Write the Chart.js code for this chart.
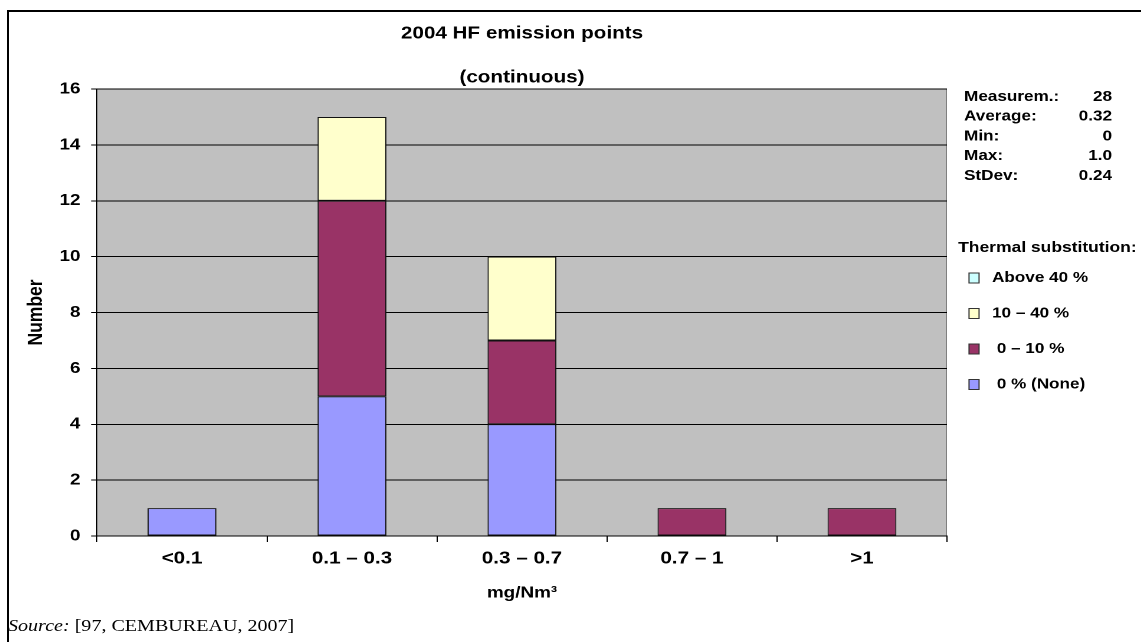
<!DOCTYPE html>
<html>
<head>
<meta charset="utf-8">
<script src="https://cdn.jsdelivr.net/npm/chart.js@4/dist/chart.umd.min.js"></script>
<style>
html,body{margin:0;padding:0;background:#fff;overflow:hidden;width:1141px;height:642px;}
#frame{position:absolute;left:7px;top:10px;width:1200px;height:700px;border-top:2px solid #000;border-left:2px solid #000;}
#wrap{position:absolute;left:0;top:0;width:967px;height:642px;transform:scaleX(1.18);transform-origin:0 0;}
#source{position:absolute;left:6.8px;top:616px;font:17px 'Liberation Serif','Times New Roman',serif;line-height:20px;white-space:nowrap;color:#000;}
</style>
</head>
<body>
<div id="frame"></div>
<div id="wrap">
  <canvas id="chart"></canvas>
  <div id="source"><i>Source:</i> [97, CEMBUREAU, 2007]</div>
</div>
<script>
// ---- data ----
const categories = ['<0.1', '0.1 \u2013 0.3', '0.3 \u2013 0.7', '0.7 \u2013 1', '>1'];
const seriesNone = [1, 5, 4, 0, 0];        // 0 % (None)
const series0to10 = [0, 7, 3, 1, 1];       // 0 – 10 %
const series10to40 = [0, 3, 3, 0, 0];      // 10 – 40 %
const seriesAbove40 = [0, 0, 0, 0, 0];     // Above 40 %
const seriesLabels = [' 0 % (None)', ' 0 \u2013 10 %', '10 \u2013 40 %', 'Above 40 %'];
const seriesColors = ['#9999FF', '#993366', '#FFFFCC', '#CCFFFF'];
const yTicks = [0, 2, 4, 6, 8, 10, 12, 14, 16];
const statLabels = ['Measurem.:', 'Average:', 'Min:', 'Max:', 'StDev:'];
const statValues = ['28', '0.32', '0', '1.0', '0.24'];
const titleLines = ['2004 HF emission points', '(continuous)'];
const legendTitle = 'Thermal substitution:';

const FONT = "'Liberation Sans', Arial, sans-serif";

const sidePanel = {
  id: 'sidePanel',
  beforeDraw(chart) {
    const { ctx, chartArea: a } = chart;
    ctx.save();
    ctx.fillStyle = '#C0C0C0';
    ctx.fillRect(a.left, a.top, a.right - a.left, a.bottom - a.top);
    ctx.strokeStyle = '#808080';
    ctx.lineWidth = 1;
    ctx.beginPath();
    ctx.moveTo(a.right - 0.5, a.top);
    ctx.lineTo(a.right - 0.5, a.bottom);
    ctx.stroke();
    ctx.restore();
  },
  afterDraw(chart) {
    const { ctx } = chart;
    ctx.save();
    ctx.fillStyle = '#000';
    ctx.textBaseline = 'middle';
    ctx.font = 'bold 14.5px ' + FONT;
    const lx = 817, vx = 942.4, y0 = 97, dy = 19.7;
    statLabels.forEach((t, i) => {
      ctx.textAlign = 'left';
      ctx.fillText(t, lx, y0 + i * dy);
      ctx.textAlign = 'right';
      ctx.fillText(statValues[i], vx, y0 + i * dy);
    });
    ctx.textAlign = 'left';
    ctx.font = 'bold 14.8px ' + FONT;
    ctx.fillText(legendTitle, 812, 248);
    ctx.font = 'bold 14.5px ' + FONT;
    const ds = chart.data.datasets.slice().reverse();
    ds.forEach((d, i) => {
      const y = 278 + i * 35.5;
      ctx.fillStyle = d.backgroundColor;
      ctx.fillRect(821.2, y - 5, 8.5, 10);
      ctx.strokeStyle = '#333';
      ctx.lineWidth = 1;
      ctx.strokeRect(821.2, y - 5, 8.5, 10);
      ctx.fillStyle = '#000';
      ctx.fillText(d.label, 840.7, y);
    });
    ctx.restore();
  }
};

const seriesData = [seriesNone, series0to10, series10to40, seriesAbove40];

new Chart(document.getElementById('chart'), {
  type: 'bar',
  data: {
    labels: categories,
    datasets: seriesData.map((vals, i) => ({
      label: seriesLabels[i],
      data: vals,
      backgroundColor: seriesColors[i],
      borderColor: '#111',
      borderWidth: 1,
      borderSkipped: false,
      categoryPercentage: 1.0,
      barPercentage: 0.405
    }))
  },
  options: {
    responsive: true,
    maintainAspectRatio: false,
    devicePixelRatio: 2,
    animation: false,
    layout: { padding: { left: 10, right: 164.5, top: 0, bottom: 30 } },
    plugins: {
      legend: { display: false },
      tooltip: { enabled: false },
      title: {
        display: true, text: titleLines[0], fullSize: false, color: '#000',
        font: { family: FONT, size: 17.5, weight: 'bold', lineHeight: 1.2 },
        padding: { top: 23, bottom: 13 }
      },
      subtitle: {
        display: true, text: titleLines[1], fullSize: false, color: '#000',
        font: { family: FONT, size: 17.5, weight: 'bold', lineHeight: 1.2 },
        padding: { top: 10, bottom: 1 }
      }
    },
    scales: {
      x: {
        stacked: true,
        afterFit(scale) { scale.height = 76; },
        grid: { display: true, drawOnChartArea: false, drawTicks: true, tickLength: 6, color: '#000', offset: true },
        border: { display: true, color: '#000', width: 1 },
        ticks: { color: '#000', padding: 6, font: { family: FONT, size: 17.5, weight: 'bold', lineHeight: 1.2 } },
        title: {
          display: true, text: 'mg/Nm\u00B3', color: '#000',
          font: { family: FONT, size: 16, weight: 'bold', lineHeight: 1.2 },
          padding: { top: 4, bottom: 9.4 }
        }
      },
      y: {
        stacked: true,
        min: yTicks[0], max: yTicks[yTicks.length - 1],
        afterFit(scale) { scale.width = 72.2; },
        afterBuildTicks(scale) { scale.ticks = yTicks.map(v => ({ value: v })); },
        grid: { display: true, drawTicks: true, tickLength: 5, color: '#000', lineWidth: 1 },
        border: { display: true, color: '#000', width: 1 },
        ticks: { color: '#000', padding: 9, font: { family: FONT, size: 16, weight: 'bold', lineHeight: 1.2 } },
        title: {
          display: true, text: 'Number', color: '#000',
          font: { family: FONT, size: 17.5, weight: 'bold', lineHeight: 1.2 },
          padding: { top: 10, bottom: 4 }
        }
      }
    }
  },
  plugins: [sidePanel]
});
</script>
</body>
</html>
